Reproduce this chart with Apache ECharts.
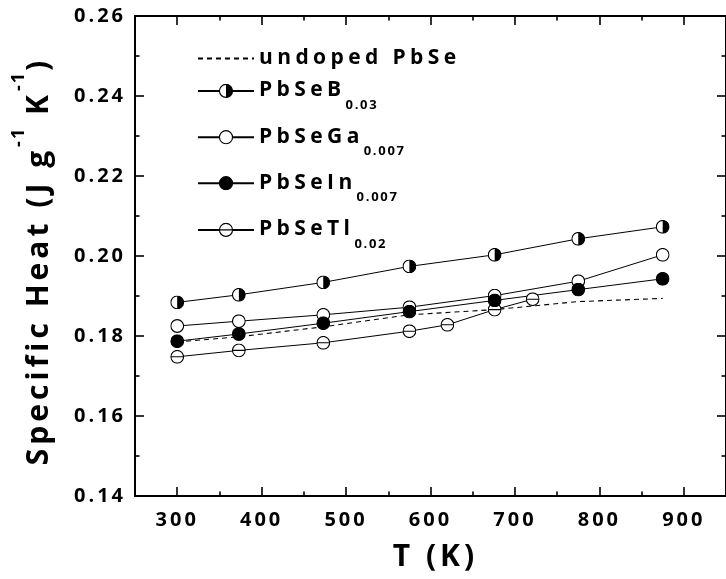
<!DOCTYPE html>
<html>
<head>
<meta charset="utf-8">
<script src="https://cdn.jsdelivr.net/npm/echarts@6.0.0/dist/echarts.min.js"></script>
<style>
html,body{margin:0;padding:0;background:#fff;}
#chart{width:726px;height:579px;}
</style>
</head>
<body>
<div id="chart"></div>
<script>
// ---- data ----
const T = [300, 373, 473, 575, 676, 775, 875];
const undopedPbSe = [0.1785, 0.1798, 0.1823, 0.1853, 0.1866, 0.1886, 0.1894];
const PbSeB = [0.1884, 0.1903, 0.1934, 0.1974, 0.2003, 0.2043, 0.2073];
const PbSeGa = [0.1825, 0.1837, 0.1853, 0.1872, 0.1901, 0.1937, 0.2003];
const PbSeIn = [0.1787, 0.1805, 0.1832, 0.1861, 0.1889, 0.1916, 0.1943];
const T_Tl = [300, 373, 473, 575, 620, 676, 721];
const PbSeTl = [0.1748, 0.1764, 0.1783, 0.1812, 0.1828, 0.1866, 0.1892];

const legendBase = ['undoped PbSe', 'PbSeB', 'PbSeGa', 'PbSeIn', 'PbSeTl'];
const legendSub = ['', '0.03', '0.007', '0.007', '0.02'];

const xMajor = [300, 400, 500, 600, 700, 800, 900];
const xMinor = [350, 450, 550, 650, 750, 850];
const yMajor = [0.14, 0.16, 0.18, 0.20, 0.22, 0.24, 0.26];
const yMinor = [0.15, 0.17, 0.19, 0.21, 0.23, 0.25];

// ---- letter spacing via font family marker (LSnn = nn/10 px) ----
(function () {
  const proto = CanvasRenderingContext2D.prototype;
  const d = Object.getOwnPropertyDescriptor(proto, 'font');
  if (!d || !('letterSpacing' in proto)) return;
  Object.defineProperty(proto, 'font', {
    configurable: true,
    enumerable: d.enumerable,
    get: function () { return d.get.call(this); },
    set: function (v) {
      d.set.call(this, v);
      const m = /LS(\d+)/.exec(v);
      this.letterSpacing = (m ? (+m[1]) / 10 : 0) + 'px';
    }
  });
})();

const F = (ls) => '"Open Sans", LS' + ls;

function sym(kind) {
  let s = "<svg xmlns='http://www.w3.org/2000/svg' width='28' height='28' viewBox='0 0 28 28'>";
  if (kind === 'B') {
    s += "<circle cx='14' cy='14' r='12.7' fill='white'/>";
    s += "<path d='M14 1.3 A12.7 12.7 0 0 1 14 26.7 Z' fill='black'/>";
    s += "<circle cx='14' cy='14' r='12.7' fill='none' stroke='black' stroke-width='2.2'/>";
  } else if (kind === 'Ga') {
    s += "<circle cx='14' cy='14' r='12.7' fill='white' stroke='black' stroke-width='2.2'/>";
  } else if (kind === 'In') {
    s += "<circle cx='14' cy='14' r='12.7' fill='black' stroke='black' stroke-width='2.2'/>";
  } else {
    s += "<circle cx='14' cy='14' r='12.7' fill='white'/>";
    s += "<path d='M1.3 14 H26.7' stroke='black' stroke-width='2.2'/>";
    s += "<circle cx='14' cy='14' r='12.7' fill='none' stroke='black' stroke-width='2.2'/>";
  }
  s += "</svg>";
  return 'image://data:image/svg+xml;charset=utf-8,' + encodeURIComponent(s);
}

const seriesNames = legendBase.map((b, i) => b + legendSub[i]);
const pairs = (xs, ys) => xs.map((x, i) => [x, ys[i]]);

const richLegend = {
  u: { fontSize: 21, fontWeight: 'bold', fontFamily: F(44), color: '#000', lineHeight: 22 },
  m: { fontSize: 21, fontWeight: 'bold', fontFamily: F(44), color: '#000', lineHeight: 22, padding: [10, 0, 11, 0] },
  s: { fontSize: 13, fontWeight: 'bold', fontFamily: F(17), color: '#000', lineHeight: 14, padding: [29, 0, 0, 0] }
};

const legendTops = [45.7, 67.7, 114, 160, 206.7];
const legends = seriesNames.map((nm, i) => ({
  left: 197,
  top: legendTops[i],
  orient: 'vertical',
  padding: 0,
  itemWidth: 56,
  itemHeight: 18,
  selectedMode: false,
  data: i === 0 ? [{ name: nm, itemStyle: { opacity: 0 } }] : [nm],
  formatter: function () {
    return legendSub[i] ? '{m|' + legendBase[i] + '}{s|' + legendSub[i] + '}' : '{u|' + legendBase[i] + '}';
  },
  textStyle: { color: '#000', rich: richLegend }
}));

const tickLabel = { fontSize: 20, fontWeight: 'bold', fontFamily: F(30), color: '#000' };
const axLine = { show: true, lineStyle: { color: '#000', width: 2 } };
const majTick = (vals) => ({ show: true, inside: true, length: 9, customValues: vals, lineStyle: { color: '#000', width: 1.6 } });
const minTick = (vals) => ({ show: true, inside: true, length: 4.5, customValues: vals, lineStyle: { color: '#000', width: 1.6 } });

const xBase = { type: 'value', gridIndex: 0, min: 250, max: 950, splitLine: { show: false } };
const yBase = { type: 'value', gridIndex: 0, min: 0.14, max: 0.26, splitLine: { show: false } };

const option = {
  animation: false,
  backgroundColor: '#fff',
  grid: { left: 135, top: 16, width: 597, height: 480, containLabel: false },
  legend: legends,
  xAxis: [
    Object.assign({}, xBase, {
      position: 'bottom',
      axisLine: axLine,
      axisTick: majTick(xMajor),
      axisLabel: Object.assign({ customValues: xMajor, margin: 13 }, tickLabel),
      name: 'T (K)',
      nameLocation: 'middle',
      nameGap: 44,
      nameTextStyle: { fontSize: 30, fontWeight: 'bold', fontFamily: F(40), color: '#000', padding: [0, 0, 0, 10] }
    }),
    Object.assign({}, xBase, { position: 'bottom', axisLine: { show: false }, axisTick: minTick(xMinor), axisLabel: { show: false } }),
    Object.assign({}, xBase, { position: 'top', axisLine: axLine, axisTick: majTick(xMajor), axisLabel: { show: false } }),
    Object.assign({}, xBase, { position: 'top', axisLine: { show: false }, axisTick: minTick(xMinor), axisLabel: { show: false } })
  ],
  yAxis: [
    Object.assign({}, yBase, {
      position: 'left',
      axisLine: axLine,
      axisTick: majTick(yMajor),
      axisLabel: Object.assign({ customValues: yMajor, margin: 9, formatter: (v) => v.toFixed(2) }, tickLabel),
      name: '{m|Specific Heat (J g}{s|-1}{m| K}{s|-1}{m|)}',
      nameLocation: 'middle',
      nameGap: 85,
      nameTextStyle: {
        color: '#000',
        padding: [0, 10, 0, 0],
        rich: {
          m: { fontSize: 30, fontWeight: 'bold', fontFamily: F(40), color: '#000', lineHeight: 34, padding: [12, 0, 0, 0] },
          s: { fontSize: 18, fontWeight: 'bold', fontFamily: F(20), color: '#000', lineHeight: 18, padding: [0, 0, 28, 0] }
        }
      }
    }),
    Object.assign({}, yBase, { position: 'left', axisLine: { show: false }, axisTick: minTick(yMinor), axisLabel: { show: false } }),
    Object.assign({}, yBase, { position: 'right', axisLine: axLine, axisTick: majTick(yMajor), axisLabel: { show: false } }),
    Object.assign({}, yBase, { position: 'right', axisLine: { show: false }, axisTick: minTick(yMinor), axisLabel: { show: false } })
  ],
  series: [
    {
      name: seriesNames[0], type: 'line', data: pairs(T, undopedPbSe),
      symbol: 'none', color: '#000',
      lineStyle: { color: '#000', width: 1.1, type: [5, 4] }
    },
    {
      name: seriesNames[4], type: 'line', data: pairs(T_Tl, PbSeTl),
      symbol: sym('Tl'), symbolSize: 14, color: '#000',
      lineStyle: { color: '#000', width: 1 }
    },
    {
      name: seriesNames[2], type: 'line', data: pairs(T, PbSeGa),
      symbol: sym('Ga'), symbolSize: 14, color: '#000',
      lineStyle: { color: '#000', width: 1 }
    },
    {
      name: seriesNames[3], type: 'line', data: pairs(T, PbSeIn),
      symbol: sym('In'), symbolSize: 14, color: '#000',
      lineStyle: { color: '#000', width: 1 }
    },
    {
      name: seriesNames[1], type: 'line', data: pairs(T, PbSeB),
      symbol: sym('B'), symbolSize: 14, color: '#000',
      lineStyle: { color: '#000', width: 1 }
    }
  ]
};

const chart = echarts.init(document.getElementById('chart'), null, { renderer: 'canvas' });
chart.setOption(option);
</script>
</body>
</html>
